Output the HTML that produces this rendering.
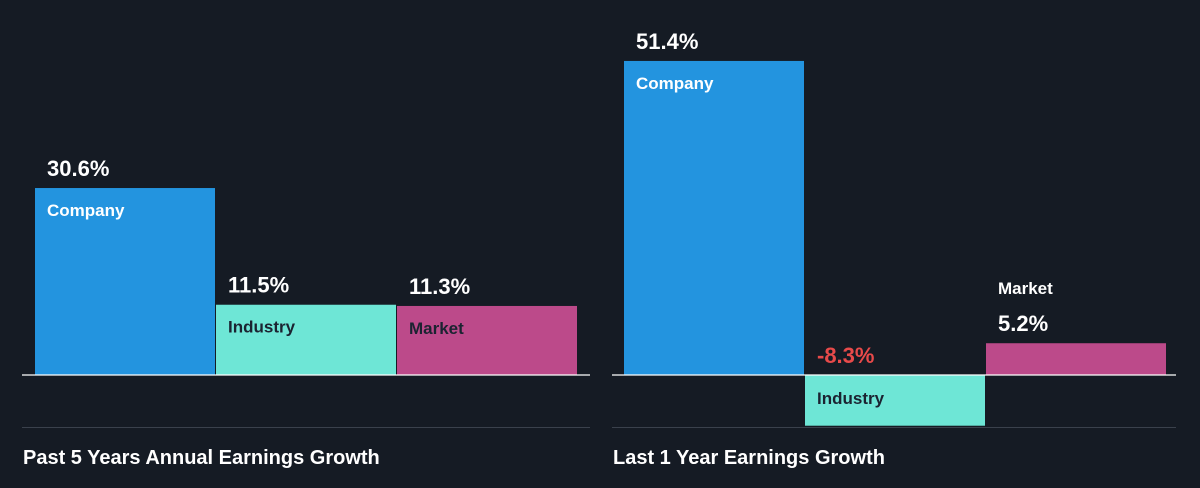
<!DOCTYPE html>
<html><head><meta charset="utf-8"><style>
body{margin:0;background:#151b24;width:1200px;height:488px;overflow:hidden;font-family:"Liberation Sans",sans-serif}
svg{display:block}
</style></head><body>
<svg id="c" width="1200" height="488"></svg>
<script>
const categories=["Company","Industry","Market"];
const pastValues=[30.6,11.5,11.3];
const lastValues=[51.4,-8.3,5.2];
const titles=["Past 5 Years Annual Earnings Growth","Last 1 Year Earnings Growth"];
const colors=["#2394df","#6ee6d6","#bc4a8a"];
const textColors=["#ffffff","#1b2331","#1b2331"];
const NS="http://www.w3.org/2000/svg";
const svg=document.getElementById('c');
const baseY=375,scale=6.11;
function y(v){return baseY-v*scale;}
function mk(t,a,p){const e=document.createElementNS(NS,t);for(const k in a)e.setAttribute(k,a[k]);(p||svg).appendChild(e);return e;}
function panel(vals,x0,lineX0,lineX1,title,idx){
  const g=mk('g',{});
  
  
  const bw=180;
  vals.forEach((v,i)=>{
    const x=x0+i*(bw+1);
    const top=Math.min(y(v),baseY),h=Math.abs(y(v)-baseY);
    const r=mk('rect',{x:x,y:top,width:bw,height:h,fill:colors[i]},g);
    
    
    const val=(v>0?'':'')+v.toFixed(1)+'%';
    let valY,labY,labCol=textColors[i];
    if(v<0){valY=baseY-12;labY=baseY+29;}
    else if(h<45){valY=top-12;labY=top-49;labCol='#ffffff';}
    else{valY=top-12;labY=top+28;}
    const t=mk('text',{x:x+12,y:valY,fill:v<0?'#e84a4a':'#ffffff','font-size':22,'font-weight':'bold'},g);
    t.textContent=val;
    
    
    const l=mk('text',{x:x+12,y:labY,fill:labCol,'font-size':17,'font-weight':'bold'},g);
    l.textContent=categories[i];
    
    
  });
  const bl=mk('line',{x1:lineX0,x2:lineX1,y1:baseY,y2:baseY,stroke:'#ffffff','stroke-width':1.2},g);
  
  
  const sp=mk('line',{x1:lineX0,x2:lineX1,y1:427.5,y2:427.5,stroke:'#3a414c','stroke-width':1},g);
  
  
  const tt=mk('text',{x:lineX0+1,y:464,fill:'#ffffff','font-size':20,'font-weight':'bold'},g);
  tt.textContent=title;
  
  
}
panel(pastValues,35,22,590,titles[0],0);
panel(lastValues,624,612,1176,titles[1],1);
</script>
</body></html>
